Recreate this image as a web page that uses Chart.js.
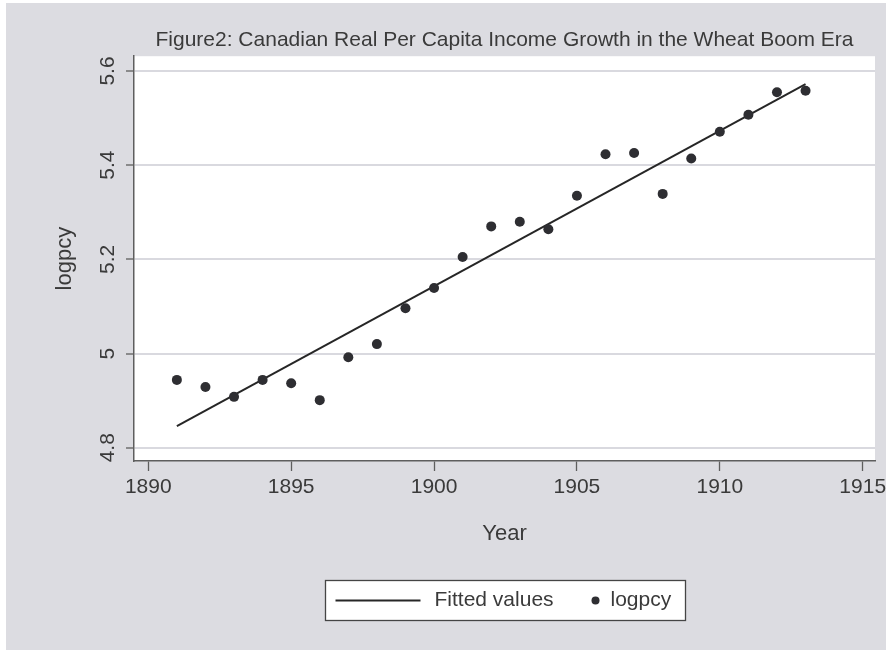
<!DOCTYPE html>
<html>
<head>
<meta charset="utf-8">
<title>Canadian Real Per Capita Income Growth</title>
<script src="https://cdn.jsdelivr.net/npm/chart.js@4"></script>
<style>
  html, body { margin: 0; padding: 0; background: #fff; }
  canvas { display: block; }
</style>
</head>
<body>
<canvas id="incomeChart" width="886" height="650"></canvas>
<script>
// log real per capita income by year
const years = [1891, 1892, 1893, 1894, 1895, 1896, 1897, 1898, 1899, 1900, 1901, 1902,
               1903, 1904, 1905, 1906, 1907, 1908, 1909, 1910, 1911, 1912, 1913];
const logpcy = [4.944, 4.929, 4.908, 4.944, 4.937, 4.901, 4.992, 5.020, 5.096, 5.139, 5.205, 5.270,
                5.280, 5.264, 5.335, 5.423, 5.426, 5.339, 5.414, 5.471, 5.507, 5.555, 5.558];

// linear trend, start and end of the sample
const fitYears = [1891, 1913];
const fitted = [4.846, 5.572];

const xTicks = [1890, 1895, 1900, 1905, 1910, 1915];
const yTicks = [4.8, 5.0, 5.2, 5.4, 5.6];
const yTickLabels = ['4.8', '5', '5.2', '5.4', '5.6'];

const INK = '#3a3a3a';
const AXIS = '#5e5e5e';
const PANEL = '#dcdce1';

Chart.defaults.font.family = "'Liberation Sans', Arial, sans-serif";
Chart.defaults.color = INK;

// grey graph region with a white plot region on top
const backdrop = {
  id: 'backdrop',
  beforeDraw(chart) {
    const { ctx, chartArea: a } = chart;
    ctx.save();
    ctx.fillStyle = '#ffffff';
    ctx.fillRect(0, 0, chart.width, chart.height);
    ctx.fillStyle = PANEL;
    ctx.fillRect(6, 3, chart.width - 6, chart.height - 3);
    ctx.fillStyle = '#ffffff';
    ctx.fillRect(a.left, a.top, a.right - a.left, a.bottom - a.top);
    ctx.restore();
  }
};

// boxed legend under the x axis title
const boxedLegend = {
  id: 'boxedLegend',
  afterDraw(chart) {
    const { ctx, chartArea: a } = chart;
    const [pts, fit] = chart.data.datasets;
    const w = 360, h = 40;
    const left = Math.round((a.left + a.right) / 2 - w / 2) + 0.5;
    const top = 580.5;
    const mid = top + h / 2;
    ctx.save();
    ctx.fillStyle = '#ffffff';
    ctx.fillRect(left, top, w, h);
    ctx.strokeStyle = '#454545';
    ctx.lineWidth = 1.3;
    ctx.strokeRect(left, top, w, h);

    ctx.strokeStyle = fit.borderColor;
    ctx.lineWidth = fit.borderWidth;
    ctx.beginPath();
    ctx.moveTo(left + 10, mid);
    ctx.lineTo(left + 95, mid);
    ctx.stroke();

    ctx.font = "21px 'Liberation Sans', Arial, sans-serif";
    ctx.fillStyle = INK;
    ctx.textBaseline = 'middle';
    ctx.fillText(fit.label, left + 109, mid);

    ctx.fillStyle = pts.backgroundColor;
    ctx.beginPath();
    ctx.arc(left + 270, mid, 4, 0, Math.PI * 2);
    ctx.fill();

    ctx.fillStyle = INK;
    ctx.fillText(pts.label, left + 285, mid);
    ctx.restore();
  }
};

new Chart(document.getElementById('incomeChart'), {
  type: 'scatter',
  data: {
    datasets: [
      {
        label: 'logpcy',
        data: years.map((yr, i) => ({ x: yr, y: logpcy[i] })),
        backgroundColor: '#2e2e32',
        borderWidth: 0,
        pointRadius: 5,
        pointHoverRadius: 5
      },
      {
        label: 'Fitted values',
        data: fitYears.map((yr, i) => ({ x: yr, y: fitted[i] })),
        showLine: true,
        borderColor: '#262626',
        borderWidth: 2,
        pointRadius: 0,
        pointHoverRadius: 0
      }
    ]
  },
  options: {
    responsive: false,
    animation: false,
    events: [],
    layout: { padding: { top: 0, left: 0, right: 11, bottom: 89 } },
    plugins: {
      legend: { display: false },
      tooltip: { enabled: false },
      title: {
        display: true,
        fullSize: false,
        text: 'Figure2: Canadian Real Per Capita Income Growth in the Wheat Boom Era',
        color: INK,
        font: { size: 21, weight: 'normal' },
        padding: { top: 28, bottom: 3 }
      }
    },
    scales: {
      x: {
        type: 'linear',
        min: 1889.5,
        max: 1915.43,
        afterBuildTicks: s => { s.ticks = xTicks.map(v => ({ value: v })); },
        afterFit: s => { s.height = 100; s.paddingLeft = 0; s.paddingRight = 0; },
        ticks: {
          color: INK,
          font: { size: 21 },
          padding: 4,
          maxRotation: 0,
          callback: v => String(v)
        },
        grid: {
          drawOnChartArea: false,
          drawTicks: true,
          tickLength: 10,
          tickColor: AXIS,
          tickWidth: 1.3
        },
        border: { display: true, color: AXIS, width: 1.5 },
        title: {
          display: true,
          text: 'Year',
          color: INK,
          font: { size: 22 },
          padding: { top: 0, bottom: 14 }
        }
      },
      y: {
        type: 'linear',
        min: 4.7718,
        max: 5.6314,
        afterBuildTicks: s => { s.ticks = yTicks.map(v => ({ value: v })); },
        afterFit: s => { s.width = 134; s.paddingTop = 0; s.paddingBottom = 0; },
        ticks: {
          color: INK,
          font: { size: 21 },
          padding: 3,
          minRotation: 90,
          maxRotation: 90,
          crossAlign: 'center',
          callback: v => yTickLabels[yTicks.findIndex(t => Math.abs(t - v) < 1e-6)]
        },
        grid: {
          color: '#d9d9df',
          lineWidth: 2,
          drawTicks: true,
          tickLength: 8,
          tickColor: AXIS,
          tickWidth: 1.3
        },
        border: { display: true, color: AXIS, width: 1.5 },
        title: {
          display: true,
          text: 'logpcy',
          color: INK,
          font: { size: 22 },
          padding: { top: 52, bottom: 0 }
        }
      }
    }
  },
  plugins: [backdrop, boxedLegend]
});
</script>
</body>
</html>
